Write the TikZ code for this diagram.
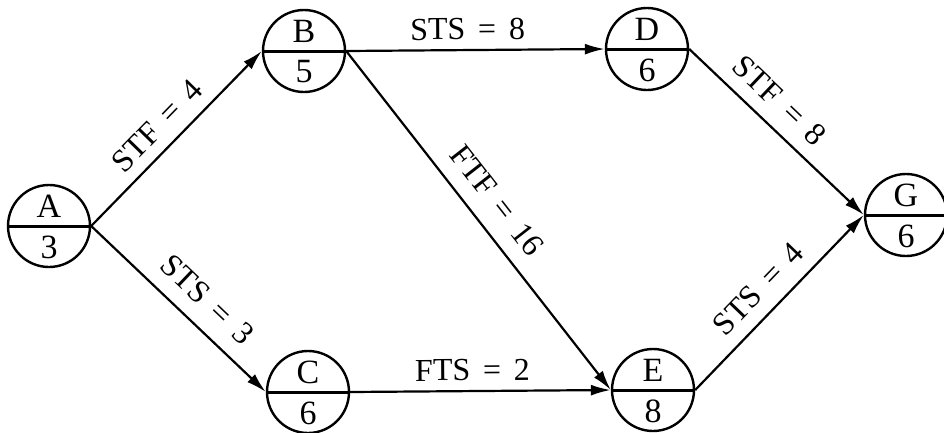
\documentclass[tikz,border=0pt]{standalone}
\usepackage{fontspec}
\setmainfont{Liberation Serif}
\usetikzlibrary{arrows.meta,calc}
\newcommand\mkact[4]{%
  \node[actc] (#1) at (#2) {};
  \draw[midl] (#1.west) -- (#1.east);
  \node[acttxt] (#1-n) at ($(#1)+(0,-20)$) {#3};
  \node[acttxt] (#1-d) at ($(#1)+(0,21)$) {#4};
}
\newcommand\eqs{\hspace{0.4em}=\hspace{0.4em}}
\tikzset{
  actc/.style={circle, draw, line width=2.4pt, minimum size=82pt, inner sep=0pt},
  midl/.style={line width=3pt},
  acttxt/.style={font=\fontsize{34}{36}\selectfont, inner sep=0pt},
  arr/.style={line width=2.2pt, -{Latex[length=20pt,width=11pt]}},
  lab/.style={font=\fontsize{32}{34}\selectfont, inner sep=3pt, sloped},
}
\begin{document}
\begin{tikzpicture}[x=1pt,y=-1pt]
\useasboundingbox (0,0) rectangle (944,432);
\fill[white] (0,0) rectangle (944,432);
\mkact{A}{49,226}{A}{3}
\mkact{B}{304,51}{B}{5}
\mkact{C}{308,392}{C}{6}
\mkact{D}{647,49}{D}{6}
\mkact{E}{653,390}{E}{8}
\mkact{G}{906,215}{G}{6}
\draw[arr] (A.east) -- node[lab, above=8pt, pos=0.48] {STF\eqs 4} (B.west);
\draw[arr] (A.east) -- node[lab, above=12pt, pos=0.56] {STS\eqs 3} (C.west);
\draw[arr] (B.east) -- node[lab, above=6pt, pos=0.47] {STS\eqs 8} (D.west);
\draw[arr] (B.east) -- node[lab, above=12pt, pos=0.49] {FTF\eqs 16} (E.west);
\draw[arr] (C.east) -- node[lab, above=6pt, pos=0.47] {FTS\eqs 2} (E.west);
\draw[arr] (D.east) -- node[lab, above=10pt, pos=0.42] {STF\eqs 8} (G.west);
\draw[arr] (E.east) -- node[lab, above=10pt, pos=0.48] {STS\eqs 4} (G.west);
\end{tikzpicture}
\end{document}
